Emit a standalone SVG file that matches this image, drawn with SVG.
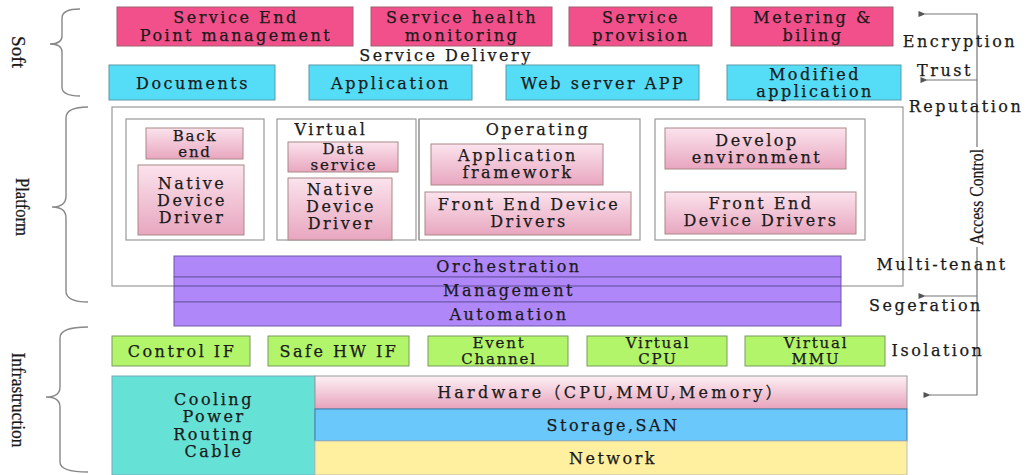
<svg xmlns="http://www.w3.org/2000/svg" width="1026" height="475" viewBox="0 0 1026 475">
<defs>
<linearGradient id="pg" x1="0" y1="0" x2="0" y2="1">
<stop offset="0" stop-color="#fbe3ed"/>
<stop offset="1" stop-color="#e8a6bf"/>
</linearGradient>
<linearGradient id="hg" x1="0" y1="0" x2="0" y2="1">
<stop offset="0" stop-color="#fdf0f5"/>
<stop offset="1" stop-color="#e7a3bb"/>
</linearGradient>
<marker id="ah" viewBox="0 0 10 10" refX="1" refY="5" markerWidth="8" markerHeight="6" orient="auto-start-reverse">
<path d="M10,1 L0,5 L10,9 Z" fill="#555"/>
</marker>
</defs>
<style>
text{font-family:"DejaVu Serif","Liberation Serif",serif;font-size:16px;letter-spacing:2.5px;fill:#1a1a1a;stroke:#1a1a1a;stroke-width:0.25;text-anchor:middle}
.sm{font-size:15px;letter-spacing:1.8px}
.side{font-family:"Liberation Serif",serif;font-size:19px;letter-spacing:0}
.red{fill:#f2508a;stroke:#a06070;stroke-width:1}
.cyan{fill:#55ddf7;stroke:#5a9aaa;stroke-width:1}
.pink{fill:url(#pg);stroke:#a88;stroke-width:1}
.frame{fill:none;stroke:#999;stroke-width:1.2}
.purple{fill:#af87f8;stroke:#6e58a8;stroke-width:1}
.green{fill:#b2f46a;stroke:#7a9a60;stroke-width:1}
.brace{fill:none;stroke:#888;stroke-width:1.4}
.conn{fill:none;stroke:#777;stroke-width:1.2}
</style>

<g id="braces">
<path class="brace" d="M80,9 Q62,9 62,18 L62,36 Q62,44 50,44 Q62,44 62,52 L62,87 Q62,96 80,96"/>
<path class="brace" d="M88,107 Q66,107 66,118 L66,196 Q66,207 52,207 Q66,207 66,218 L66,291 Q66,302 88,302"/>
<path class="brace" d="M88,327 Q60,327 60,338 L60,387 Q60,397 46,397 Q60,397 60,407 L60,462 Q60,472 88,472"/>
<text class="side" transform="translate(12,52) rotate(90)" textLength="32" lengthAdjust="spacingAndGlyphs">Soft</text>
<text class="side" transform="translate(16,207) rotate(90)" textLength="58" lengthAdjust="spacingAndGlyphs">Platform</text>
<text class="side" transform="translate(12,400) rotate(90)" textLength="95" lengthAdjust="spacingAndGlyphs">Infrastruction</text>
</g>

<g id="soft-top">
<g id="n-sep"><rect class="red" x="117" y="7" width="236" height="39"/><text x="236" y="23">Service End</text><text x="236" y="41">Point management</text></g>
<g id="n-shm"><rect class="red" x="371" y="7" width="181" height="39"/><text x="462" y="23">Service health</text><text x="462" y="41">monitoring</text></g>
<g id="n-sp"><rect class="red" x="569" y="7" width="143" height="39"/><text x="641" y="23">Service</text><text x="641" y="41">provision</text></g>
<g id="n-mb"><rect class="red" x="731" y="7" width="162" height="39"/><text x="813" y="23">Metering &amp;</text><text x="813" y="41">biling</text></g>
<text id="t-sd" x="446" y="61">Service Delivery</text>
</g>

<g id="soft-apps">
<g id="n-doc"><rect class="cyan" x="109" y="65" width="166" height="35"/><text x="193" y="89">Documents</text></g>
<g id="n-app"><rect class="cyan" x="309" y="65" width="163" height="35"/><text x="391" y="89">Application</text></g>
<g id="n-web"><rect class="cyan" x="506" y="65" width="193" height="35"/><text x="603" y="89">Web server APP</text></g>
<g id="n-mod"><rect class="cyan" x="727" y="65" width="174" height="35"/><text x="815" y="80">Modified</text><text x="815" y="97">application</text></g>
</g>

<g id="platform">
<rect class="frame" x="112" y="107" width="791" height="179"/>
<g id="p-box1"><rect class="frame" x="126" y="119" width="138" height="121"/>
<g id="n-be"><rect class="pink" x="146" y="128" width="97" height="31"/><text class="sm" x="195" y="141">Back</text><text class="sm" x="195" y="157">end</text></g>
<g id="n-ndd1"><rect class="pink" x="138" y="165" width="106" height="70"/><text x="192" y="189">Native</text><text x="192" y="206">Device</text><text x="192" y="223">Driver</text></g>
</g>
<g id="p-box2"><rect class="frame" x="277" y="119" width="139" height="121"/><line class="frame" x1="419" y1="119" x2="419" y2="240"/>
<text x="331" y="135">Virtual</text>
<g id="n-ds"><rect class="pink" x="288" y="142" width="110" height="30"/><text class="sm" x="344" y="154">Data</text><text class="sm" x="344" y="170">service</text></g>
<g id="n-ndd2"><rect class="pink" x="288" y="178" width="104" height="62"/><text x="341" y="195">Native</text><text x="341" y="212">Device</text><text x="341" y="229">Driver</text></g>
</g>
<g id="p-box3"><rect class="frame" x="419" y="119" width="221" height="121"/>
<text x="538" y="135">Operating</text>
<g id="n-af"><rect class="pink" x="431" y="144" width="172" height="41"/><text x="518" y="161">Application</text><text x="518" y="178">framework</text></g>
<g id="n-fedd1"><rect class="pink" x="425" y="192" width="206" height="43"/><text x="529" y="210">Front End Device</text><text x="529" y="227">Drivers</text></g>
</g>
<g id="p-box4"><rect class="frame" x="655" y="119" width="210" height="121"/>
<g id="n-de"><rect class="pink" x="665" y="128" width="181" height="41"/><text x="757" y="146">Develop</text><text x="757" y="163">environment</text></g>
<g id="n-fedd2"><rect class="pink" x="665" y="192" width="191" height="42"/><text x="761" y="209">Front End</text><text x="761" y="226">Device Drivers</text></g>
</g>
</g>

<g id="mgmt">
<g id="n-orch"><rect class="purple" x="174" y="256" width="667" height="21"/><text x="509" y="272">Orchestration</text></g>
<g id="n-mgmt"><rect class="purple" x="174" y="277" width="667" height="25"/><line x1="174" y1="286" x2="841" y2="286" stroke="#5a4a9a" stroke-width="1"/><text x="509" y="296">Management</text></g>
<g id="n-auto"><rect class="purple" x="174" y="302" width="667" height="24"/><text x="509" y="320">Automation</text></g>
</g>

<g id="infra-if">
<g id="n-cif"><rect class="green" x="112" y="336" width="138" height="30"/><text x="182" y="357">Control IF</text></g>
<g id="n-shw"><rect class="green" x="268" y="336" width="141" height="30"/><text x="339" y="357">Safe HW IF</text></g>
<g id="n-ec"><rect class="green" x="428" y="336" width="140" height="30"/><text class="sm" x="499" y="348">Event</text><text class="sm" x="499" y="364">Channel</text></g>
<g id="n-vcpu"><rect class="green" x="587" y="336" width="140" height="30"/><text class="sm" x="658" y="348">Virtual</text><text class="sm" x="658" y="364">CPU</text></g>
<g id="n-vmmu"><rect class="green" x="745" y="336" width="140" height="30"/><text class="sm" x="816" y="348">Virtual</text><text class="sm" x="816" y="364">MMU</text></g>
</g>

<g id="infra-hw">
<g id="n-cool"><rect x="112" y="376" width="203" height="99" fill="#66e1d6" stroke="#7ab" stroke-width="1"/><text x="214" y="405">Cooling</text><text x="214" y="422">Power</text><text x="214" y="440">Routing</text><text x="214" y="457">Cable</text></g>
<g id="n-hw"><rect x="315" y="376" width="592" height="33" fill="url(#hg)" stroke="#999" stroke-width="1"/><text x="611" y="398" style="font-family:'DejaVu Serif','Noto Sans CJK SC',serif;letter-spacing:3.2px">Hardware（CPU,MMU,Memory）</text></g>
<g id="n-st"><rect x="315" y="409" width="592" height="32" fill="#6ac8fa" stroke="#3a7ab0" stroke-width="1"/><text x="613" y="431">Storage,SAN</text></g>
<g id="n-net"><rect x="315" y="441" width="592" height="34" fill="#fff0a0" stroke="#bbb" stroke-width="1"/><text x="613" y="464">Network</text></g>
</g>

<g id="connectors">
<path class="conn" d="M977,147 L977,14 L925,14" marker-end="url(#ah)"/>
<path class="conn" d="M977,80 L927,80" marker-end="url(#ah)"/>
<path class="conn" d="M977,247 L977,395 L930,395" marker-end="url(#ah)"/>
<path class="conn" d="M977,296 L925,296" marker-end="url(#ah)"/>
</g>

<g id="labels">
<text x="960" y="47">Encryption</text>
<text x="945" y="76">Trust</text>
<text x="966" y="112">Reputation</text>
<text class="side" transform="translate(983,197) rotate(-90)" textLength="96" lengthAdjust="spacingAndGlyphs">Access Control</text>
<text x="942" y="270">Multi-tenant</text>
<text x="926" y="311">Segeration</text>
<text x="938" y="356">Isolation</text>
</g>
</svg>
